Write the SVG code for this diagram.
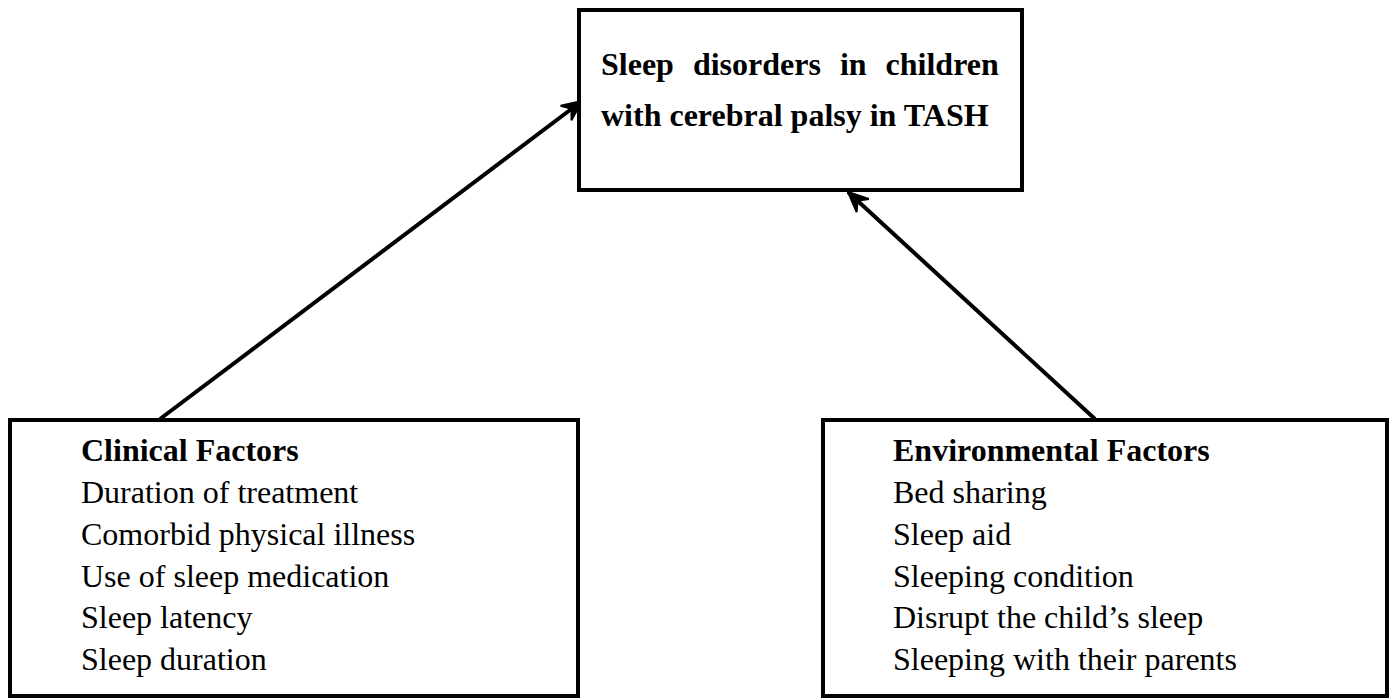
<svg xmlns="http://www.w3.org/2000/svg" width="1394" height="698" viewBox="0 0 1394 698">
<style>
.box{fill:#fff;stroke:#000;stroke-width:4}
.t{font-family:"Liberation Serif","Times New Roman",serif;font-size:32px;fill:#000}
.b{font-weight:bold}
.con{stroke:#000;stroke-width:4;fill:none}
</style>
<defs>
<marker id="ah" markerWidth="24" markerHeight="22" refX="21" refY="11" orient="auto" markerUnits="userSpaceOnUse">
<path d="M1,2 L21,11 L1,20 L8,11 Z" fill="#000" stroke="#000" stroke-width="2" stroke-linejoin="miter"/>
</marker>
</defs>
<rect width="1394" height="698" fill="#fff"/>
<g id="connectors">
<line class="con" x1="160" y1="419" x2="582" y2="101" marker-end="url(#ah)"/>
<line class="con" x1="1095" y1="419" x2="848" y2="192" marker-end="url(#ah)"/>
</g>
<g id="outcome">
<rect class="box" x="579" y="10" width="443" height="180"/>
<text class="t b" x="601" y="75" word-spacing="11">Sleep disorders in children</text>
<text class="t b" x="601" y="126">with cerebral palsy in TASH</text>
</g>
<g id="clinical">
<rect class="box" x="10" y="420" width="568" height="276"/>
<text class="t b" x="81" y="461">Clinical Factors</text>
<text class="t" x="81" y="503">Duration of treatment</text>
<text class="t" x="81" y="545">Comorbid physical illness</text>
<text class="t" x="81" y="587">Use of sleep medication</text>
<text class="t" x="81" y="628">Sleep latency</text>
<text class="t" x="81" y="670">Sleep duration</text>
</g>
<g id="environmental">
<rect class="box" x="823" y="420" width="564" height="276"/>
<text class="t b" x="893" y="461">Environmental Factors</text>
<text class="t" x="893" y="503">Bed sharing</text>
<text class="t" x="893" y="545">Sleep aid</text>
<text class="t" x="893" y="587">Sleeping condition</text>
<text class="t" x="893" y="628">Disrupt the child’s sleep</text>
<text class="t" x="893" y="670">Sleeping with their parents</text>
</g>
</svg>
